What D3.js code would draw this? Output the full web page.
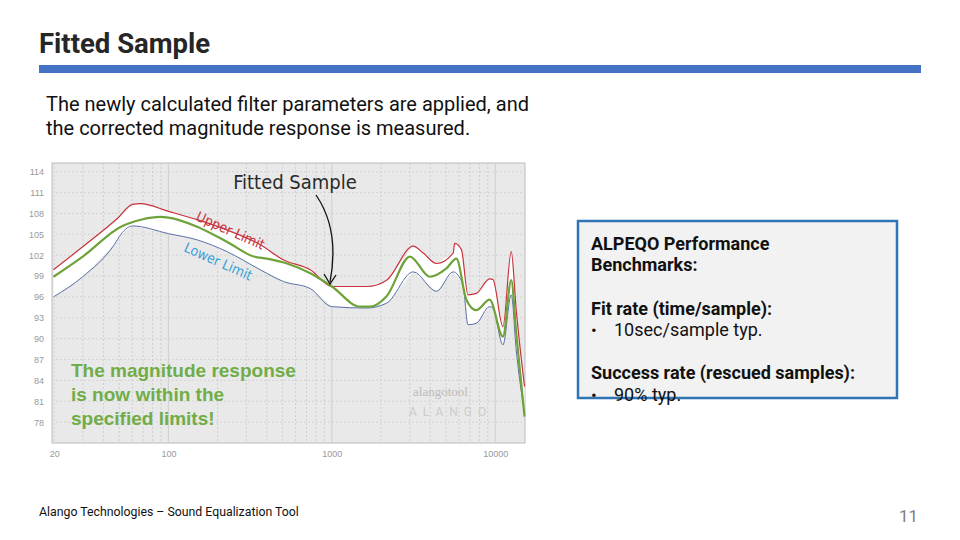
<!DOCTYPE html>
<html><head><meta charset="utf-8">
<script src="https://cdn.jsdelivr.net/npm/d3@7"></script>
<style>body{margin:0;background:#fff}svg{display:block;font-family:Roboto,sans-serif}</style>
</head><body><svg id="s" width="960" height="540"></svg>
<script>
const upperF=[19.8,29.9,48.9,60.3,67.8,100,150,229,365,507,738,1000,1634,2164,3148,3624,4369,5521,5650,6205,6808,7652,9230,9675,11140,12520,13430,15100];
const upperDb=[99.9,103.2,107.3,109.3,109.4,108.3,107.1,105.6,103.5,101.3,99.9,97.5,97.5,98.4,103.3,102.3,100.8,102.3,103.7,102.8,96.3,96.5,98.6,98.5,91.7,102.5,94.1,83.1];
const lowerF=[19.8,29.9,46.6,51.2,60.3,100,150,229,365,507,738,1000,1634,2164,3148,4369,5521,6350,6808,7652,9230,9675,11140,12520,13430,15100];
const lowerDb=[96.0,98.9,103.5,105.0,106.2,105.1,104.2,102.5,99.9,98.2,97.2,94.6,94.4,95.1,99.6,96.8,99.6,97.7,92.0,92.2,94.6,94.4,89.1,96.3,88.4,79.3];
const fitF=[19.8,29.9,51.2,67.8,89.8,100,150,229,333,401,532,738,1000,1489,1713,2164,3005,3979,5025,5782,6653,7652,9230,11140,12520,13430,15100];
const fitDb=[98.9,101.8,106.1,107.1,107.5,107.4,106.1,103.9,101.8,101.5,100.8,99.4,97.5,94.6,94.6,96.1,101.8,98.9,100.1,101.5,95.6,94.1,95.6,90.3,98.4,90.8,78.8];
const yTicks=[78,81,84,87,90,93,96,99,102,105,108,111,114];
const xTicks=[20,100,1000,10000];

const svg=d3.select('#s');
svg.append('text').attr('x',39).attr('y',53).attr('font-size',27.5).attr('font-weight',700).attr('fill','#262626').text('Fitted Sample');
svg.append('rect').attr('x',39).attr('y',65).attr('width',882).attr('height',8).attr('fill','#4472c4');
svg.append('text').attr('x',46).attr('y',111).attr('font-size',20).attr('fill','#111').text('The newly calculated filter parameters are applied, and');
svg.append('text').attr('x',46).attr('y',135).attr('font-size',20).attr('fill','#111').text('the corrected magnitude response is measured.');

const L=52,R=525,T=163,B=443;
const x=d3.scaleLog().domain([19.4,15200]).range([L,R]);
const y=d3.scaleLinear().domain([75,115.25]).range([B,T]);
svg.append('rect').attr('x',L).attr('y',T).attr('width',R-L).attr('height',B-T).attr('fill','#e9e9e9').attr('stroke','#bbb');
const g=svg.append('g');
const minor=[];[10,100,1000,10000].forEach(d=>{for(let k=1;k<10;k++){const v=d*k;if(v>19.4&&v<15200)minor.push(v);}});
g.selectAll('.vg').data(minor).join('line').attr('x1',d=>x(d)).attr('x2',d=>x(d)).attr('y1',T).attr('y2',B)
 .attr('stroke','#c8c8c8').attr('stroke-dasharray',d=>[100,1000,10000].includes(d)?null:'2,2').attr('stroke-width',0.8);
g.selectAll('.hg').data(yTicks).join('line').attr('x1',L).attr('x2',R).attr('y1',d=>y(d)).attr('y2',d=>y(d))
 .attr('stroke','#cfcfcf').attr('stroke-dasharray','2,2').attr('stroke-width',0.8);
const ax=svg.append('g').attr('transform',`translate(0,${B})`).call(d3.axisBottom(x).tickValues(xTicks).tickFormat(d3.format('d')).tickSize(0).tickPadding(8));
ax.select('.domain').remove();ax.selectAll('text').attr('fill','#999').attr('font-size',9);
const ay=svg.append('g').attr('transform',`translate(${L},0)`).call(d3.axisLeft(y).tickValues(yTicks).tickSize(0).tickPadding(8));
ay.select('.domain').remove();ay.selectAll('text').attr('fill','#999').attr('font-size',9);

const up=upperF.map((f,i)=>[x(f),y(upperDb[i])]);
const lo=lowerF.map((f,i)=>[x(f),y(lowerDb[i])]);
const fi=fitF.map((f,i)=>[x(f),y(fitDb[i])]);
const line=d3.line().curve(d3.curveMonotoneX);
svg.append('path').attr('d',d3.line()(up.concat(lo.slice().reverse()))+'Z').attr('fill','#fff');
svg.append('path').attr('d',line(lo)).attr('fill','none').attr('stroke','#5a6fa8').attr('stroke-width',1);
svg.append('path').attr('d',line(up)).attr('fill','none').attr('stroke','#c8323c').attr('stroke-width',1.2);
svg.append('path').attr('d',line(fi)).attr('fill','none').attr('stroke','#6ea33a').attr('stroke-width',2.2);

svg.append('text').attr('x',295).attr('y',189).attr('text-anchor','middle').attr('font-size',20).attr('fill','#2a2a2a').attr('font-family','DejaVu Sans Condensed,sans-serif').text('Fitted Sample');
svg.append('path').attr('d','M316,195 Q340,230 330,282').attr('fill','none').attr('stroke','#111').attr('stroke-width',1.3);
svg.append('path').attr('d','M324,274 L330,284 L336,275').attr('fill','none').attr('stroke','#111').attr('stroke-width',1.3);
svg.append('text').attr('transform','translate(195,220) rotate(24)').attr('font-size',14).attr('fill','#c8323c').attr('font-family','DejaVu Sans Condensed,sans-serif').text('Upper Limit');
svg.append('text').attr('transform','translate(183,251) rotate(24)').attr('font-size',14).attr('fill','#3a9fd8').attr('font-family','DejaVu Sans Condensed,sans-serif').text('Lower Limit');
['The magnitude response','is now within the','specified limits!'].forEach((t,i)=>
 svg.append('text').attr('x',71).attr('y',377+i*24).attr('font-size',19).attr('font-weight',700).attr('fill','#70ad47').attr('font-family','Liberation Sans,Arial,sans-serif').text(t));
svg.append('text').attr('x',413).attr('y',396).attr('font-size',13).attr('fill','#bbb').attr('font-family','Liberation Serif,serif').text('alangotool');
svg.append('text').attr('x',409).attr('y',416).attr('font-size',12).attr('fill','#ccc').attr('letter-spacing',6).text('ALANGO');

svg.append('rect').attr('x',578).attr('y',221).attr('width',319).attr('height',177).attr('fill','#f2f2f2').attr('stroke','#2e75b6').attr('stroke-width',2.5);
const bx=[['ALPEQO Performance',250,true,591],['Benchmarks:',271,true,591],['Fit rate (time/sample):',315,true,591],['10sec/sample typ.',336,false,614],['Success rate (rescued samples):',379,true,591],['90% typ.',401,false,614]];
bx.forEach(([t,yy,b,xx])=>{
 svg.append('text').attr('x',xx).attr('y',yy).attr('font-size',18).attr('font-weight',b?700:400).attr('fill','#111').text(t);
 if(!b) svg.append('text').attr('x',591).attr('y',yy).attr('font-size',17).attr('fill','#111').text('•');
});
svg.append('text').attr('x',39).attr('y',516).attr('font-size',12.3).attr('fill','#111').text('Alango Technologies  – Sound Equalization Tool');
svg.append('text').attr('x',918).attr('y',522).attr('text-anchor','end').attr('font-size',17).attr('fill','#7f7f7f').text('11');
</script></body></html>
